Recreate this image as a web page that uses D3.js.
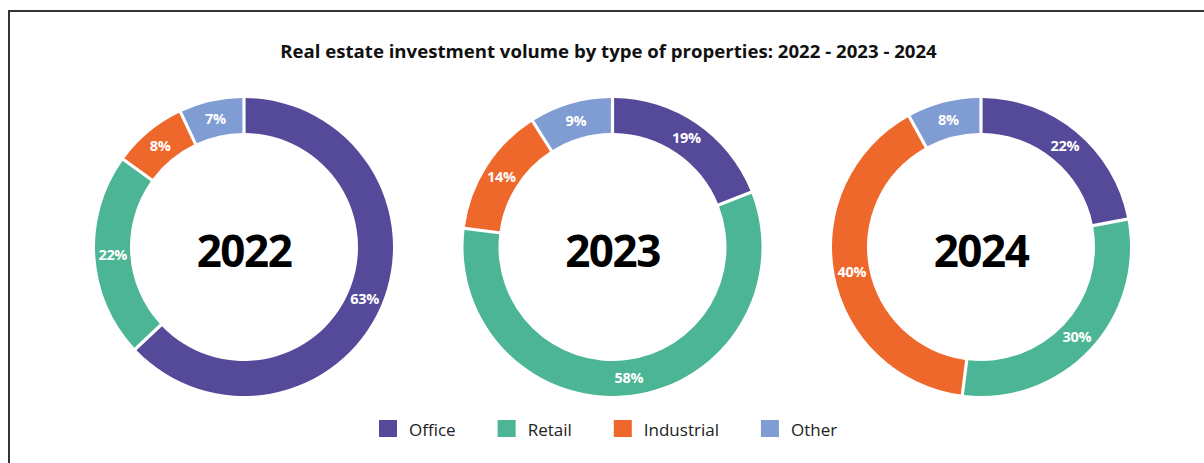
<!DOCTYPE html>
<html>
<head>
<meta charset="utf-8">
<script src="https://cdn.jsdelivr.net/npm/d3@7"></script>
<style>
  html, body { margin: 0; padding: 0; background: #fff; }
  svg { display: block; }
  text { font-family: "Open Sans", "Noto Sans", sans-serif; }
</style>
</head>
<body>
<svg id="chart" width="1204" height="463"></svg>
<script>
// Property types, shared by every year
const categories = ["Office", "Retail", "Industrial", "Other"];
const years = ["2022", "2023", "2024"];
// Share of investment volume (%) per year, in category order
const values2022 = [63, 22, 8, 7];
const values2023 = [19, 58, 14, 9];
const values2024 = [22, 30, 40, 8];
const seriesValues = [values2022, values2023, values2024];
const colors = ["#554a9a", "#4bb595", "#ee682b", "#7f9dd3"];
const titleText = "Real estate investment volume by type of properties: 2022 - 2023 - 2024";

const W = 1204, H = 463;
const svg = d3.select("#chart");

// Frame (top and left rules)
svg.append("path")
  .attr("d", `M9,${H} V11 H${W}`)
  .attr("fill", "none")
  .attr("stroke", "#333")
  .attr("stroke-width", 2);

svg.append("text")
  .attr("x", 608.5)
  .attr("y", 58)
  .attr("text-anchor", "middle")
  .attr("font-size", 18.6)
  .attr("font-weight", 700)
  .attr("fill", "#111")
  .text(titleText);

const color = d3.scaleOrdinal().domain(categories).range(colors);
const xCenter = d3.scalePoint().domain(years).range([244, 981]);
const cy = 247;
const outerR = 149, innerR = 114;

const pie = d3.pie().sort(null).value(d => d.value);
const arc = d3.arc()
  .innerRadius(innerR)
  .outerRadius(outerR)
  .padAngle(0.017);
const labelArc = d3.arc().innerRadius(innerR).outerRadius(outerR);

years.forEach((yr, i) => {
  const data = categories.map((c, j) => ({ cat: c, value: seriesValues[i][j] }));
  const g = svg.append("g")
    .attr("transform", `translate(${xCenter(yr)},${cy})`);
  const arcs = pie(data);
  g.selectAll("path.slice")
    .data(arcs)
    .join("path")
    .attr("class", "slice")
    .attr("d", arc)
    .attr("fill", d => color(d.data.cat));
  g.selectAll("text.pct")
    .data(arcs)
    .join("text")
    .attr("class", "pct")
    .attr("transform", d => `translate(${labelArc.centroid(d)})`)
    .attr("text-anchor", "middle")
    .attr("dy", "0.36em")
    .attr("font-size", 14.5)
    .attr("font-weight", 700)
    .attr("letter-spacing", -0.3)
    .attr("fill", "#fff")
    .text(d => d.data.value + "%");
  g.append("text")
    .attr("text-anchor", "middle")
    .attr("y", 20)
    .attr("font-size", 44)
    .attr("font-weight", 700)
    .attr("letter-spacing", -1.5)
    .attr("fill", "#000")
    .text(yr);
});

// Legend
const legend = svg.append("g").attr("transform", "translate(379,420)");
let lx = 0;
categories.forEach(c => {
  const item = legend.append("g").attr("transform", `translate(${lx},0)`);
  item.append("rect")
    .attr("width", 18).attr("height", 17)
    .attr("fill", color(c));
  const t = item.append("text")
    .attr("x", 30)
    .attr("y", 16)
    .attr("font-size", 17)
    .attr("fill", "#222")
    .text(c);
  lx += 30 + t.node().getComputedTextLength() + 42;
});
</script>
</body>
</html>
